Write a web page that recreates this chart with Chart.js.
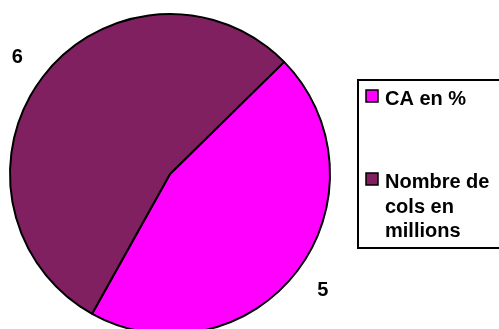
<!DOCTYPE html>
<html>
<head>
<meta charset="utf-8">
<script src="https://cdn.jsdelivr.net/npm/chart.js@4"></script>
<style>
  html, body { margin: 0; padding: 0; background: #fff; overflow: hidden; }
  #wrap { width: 499px; height: 329px; overflow: hidden; }
</style>
</head>
<body>
<div id="wrap"><canvas id="camembert" width="499" height="345"></canvas></div>
<script>
// données du graphique
const categories = ["CA en %", "Nombre de cols en millions"];
const valeurs = [5, 6];
const couleurs = ["#FF00FF", "#802060"];

const police = "bold 20px 'Liberation Sans', Arial, sans-serif";

// étiquettes des valeurs à l'extérieur du camembert
const etiquettesValeurs = {
    id: "etiquettesValeurs",
    afterDatasetsDraw(chart) {
        const ctx = chart.ctx;
        const meta = chart.getDatasetMeta(0);
        ctx.save();
        ctx.font = police;
        ctx.fillStyle = "#000";
        ctx.textAlign = "center";
        ctx.textBaseline = "middle";
        meta.data.forEach((arc, i) => {
            const mid = (arc.startAngle + arc.endAngle) / 2;
            const r = arc.outerRadius * 1.2;
            ctx.fillText(String(valeurs[i]), arc.x + Math.cos(mid) * r, arc.y + Math.sin(mid) * r);
        });
        ctx.restore();
    }
};

// coupe un texte en lignes selon une largeur max
function couper(ctx, texte, largeur) {
    const mots = texte.split(" ");
    const lignes = [];
    let ligne = "";
    mots.forEach(m => {
        const essai = ligne ? ligne + " " + m : m;
        if (ctx.measureText(essai).width > largeur && ligne) {
            lignes.push(ligne);
            ligne = m;
        } else {
            ligne = essai;
        }
    });
    if (ligne) lignes.push(ligne);
    return lignes;
}

// légende dessinée à la main (cadre à droite)
const legendeCadre = {
    id: "legendeCadre",
    afterDraw(chart) {
        const ctx = chart.ctx;
        ctx.save();
        ctx.lineWidth = 2;
        ctx.strokeStyle = "#000";
        ctx.strokeRect(358, 80, 160, 168);

        const hauts = [105, 188];
        ctx.font = police;
        ctx.textAlign = "left";
        ctx.textBaseline = "alphabetic";
        chart.data.labels.forEach((lab, i) => {
            const y = hauts[i];
            ctx.fillStyle = couleurs[i];
            ctx.fillRect(366, y - 15, 12, 12);
            ctx.lineWidth = 1.5;
            ctx.strokeRect(366, y - 15, 12, 12);
            ctx.fillStyle = "#000";
            couper(ctx, lab, 112).forEach((l, k) => {
                ctx.fillText(l, 385, y + k * 24.5);
            });
        });
        ctx.restore();
    }
};

new Chart(document.getElementById("camembert"), {
    type: "pie",
    data: {
        labels: categories,
        datasets: [{
            data: valeurs,
            backgroundColor: couleurs,
            borderColor: "#000",
            borderWidth: 2
        }]
    },
    options: {
        responsive: false,
        animation: false,
        rotation: 45.5,
        layout: { padding: { left: 9, top: 13, right: 168, bottom: 10 } },
        plugins: {
            legend: { display: false },
            tooltip: { enabled: false }
        }
    },
    plugins: [etiquettesValeurs, legendeCadre]
});
</script>
</body>
</html>
